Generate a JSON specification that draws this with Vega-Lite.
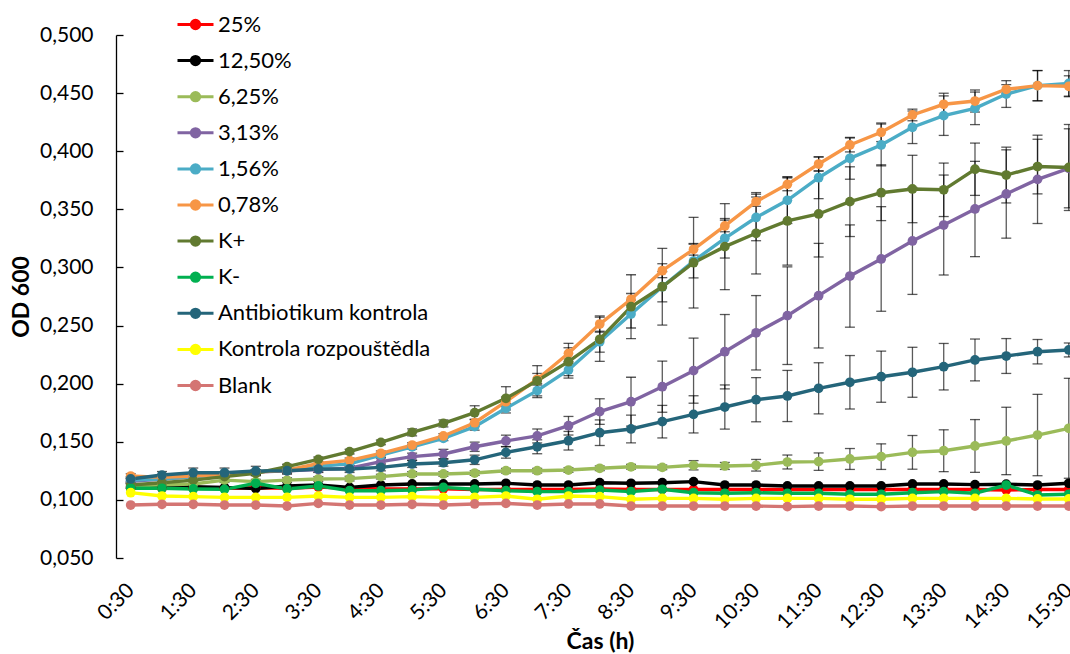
{
"$schema": "https://vega.github.io/schema/vega-lite/v6.json",
"width": 954, "height": 523,
"autosize": {"type": "none"},
"padding": {"left": 116, "top": 35, "right": 0, "bottom": 96},
"config": {"view": {"stroke": null}, "font": "Lato",
 "axis": {"labelFont": "Lato", "titleFont": "Lato", "labelColor": "#000", "titleColor": "#000", "domainColor": "#000", "tickColor": "#000", "grid": false}},
"datasets": {
"pts": [
{"s":"25%","t":"0:30","v":0.110},{"s":"25%","t":"1:00","v":0.110},{"s":"25%","t":"1:30","v":0.110},{"s":"25%","t":"2:00","v":0.110},{"s":"25%","t":"2:30","v":0.1105},{"s":"25%","t":"3:00","v":0.110},{"s":"25%","t":"3:30","v":0.111},{"s":"25%","t":"4:00","v":0.110},{"s":"25%","t":"4:30","v":0.1095},{"s":"25%","t":"5:00","v":0.1095},{"s":"25%","t":"5:30","v":0.1095},{"s":"25%","t":"6:00","v":0.109},{"s":"25%","t":"6:30","v":0.109},{"s":"25%","t":"7:00","v":0.109},{"s":"25%","t":"7:30","v":0.109},{"s":"25%","t":"8:00","v":0.1095},{"s":"25%","t":"8:30","v":0.109},{"s":"25%","t":"9:00","v":0.109},{"s":"25%","t":"9:30","v":0.109},{"s":"25%","t":"10:00","v":0.109},{"s":"25%","t":"10:30","v":0.109},{"s":"25%","t":"11:00","v":0.109},{"s":"25%","t":"11:30","v":0.109},{"s":"25%","t":"12:00","v":0.109},{"s":"25%","t":"12:30","v":0.109},{"s":"25%","t":"13:00","v":0.109},{"s":"25%","t":"13:30","v":0.109},{"s":"25%","t":"14:00","v":0.109},{"s":"25%","t":"14:30","v":0.1085},{"s":"25%","t":"15:00","v":0.109},{"s":"25%","t":"15:30","v":0.109},
{"s":"12,50%","t":"0:30","v":0.1114},{"s":"12,50%","t":"1:00","v":0.1114},{"s":"12,50%","t":"1:30","v":0.1114},{"s":"12,50%","t":"2:00","v":0.1108},{"s":"12,50%","t":"2:30","v":0.1097},{"s":"12,50%","t":"3:00","v":0.112},{"s":"12,50%","t":"3:30","v":0.1128},{"s":"12,50%","t":"4:00","v":0.1108},{"s":"12,50%","t":"4:30","v":0.1128},{"s":"12,50%","t":"5:00","v":0.1137},{"s":"12,50%","t":"5:30","v":0.1137},{"s":"12,50%","t":"6:00","v":0.1137},{"s":"12,50%","t":"6:30","v":0.1143},{"s":"12,50%","t":"7:00","v":0.1128},{"s":"12,50%","t":"7:30","v":0.1128},{"s":"12,50%","t":"8:00","v":0.1148},{"s":"12,50%","t":"8:30","v":0.1143},{"s":"12,50%","t":"9:00","v":0.1148},{"s":"12,50%","t":"9:30","v":0.1157},{"s":"12,50%","t":"10:00","v":0.1128},{"s":"12,50%","t":"10:30","v":0.1128},{"s":"12,50%","t":"11:00","v":0.112},{"s":"12,50%","t":"11:30","v":0.112},{"s":"12,50%","t":"12:00","v":0.112},{"s":"12,50%","t":"12:30","v":0.112},{"s":"12,50%","t":"13:00","v":0.1137},{"s":"12,50%","t":"13:30","v":0.1137},{"s":"12,50%","t":"14:00","v":0.1131},{"s":"12,50%","t":"14:30","v":0.1135},{"s":"12,50%","t":"15:00","v":0.1128},{"s":"12,50%","t":"15:30","v":0.1143},
{"s":"6,25%","t":"0:30","v":0.112,"e":0.002},{"s":"6,25%","t":"1:00","v":0.113,"e":0.002},{"s":"6,25%","t":"1:30","v":0.1137,"e":0.002},{"s":"6,25%","t":"2:00","v":0.117,"e":0.002},{"s":"6,25%","t":"2:30","v":0.1157,"e":0.002},{"s":"6,25%","t":"3:00","v":0.117,"e":0.002},{"s":"6,25%","t":"3:30","v":0.118,"e":0.002},{"s":"6,25%","t":"4:00","v":0.1183,"e":0.002},{"s":"6,25%","t":"4:30","v":0.120,"e":0.002},{"s":"6,25%","t":"5:00","v":0.1223,"e":0.002},{"s":"6,25%","t":"5:30","v":0.1223,"e":0.002},{"s":"6,25%","t":"6:00","v":0.1231,"e":0.002},{"s":"6,25%","t":"6:30","v":0.1251,"e":0.002},{"s":"6,25%","t":"7:00","v":0.1251,"e":0.002},{"s":"6,25%","t":"7:30","v":0.1257,"e":0.002},{"s":"6,25%","t":"8:00","v":0.1272,"e":0.002},{"s":"6,25%","t":"8:30","v":0.1285,"e":0.002},{"s":"6,25%","t":"9:00","v":0.128,"e":0.002},{"s":"6,25%","t":"9:30","v":0.1298,"e":0.004},{"s":"6,25%","t":"10:00","v":0.1292,"e":0.003},{"s":"6,25%","t":"10:30","v":0.1298,"e":0.005},{"s":"6,25%","t":"11:00","v":0.1326,"e":0.006},{"s":"6,25%","t":"11:30","v":0.1329,"e":0.0075},{"s":"6,25%","t":"12:00","v":0.1352,"e":0.009},{"s":"6,25%","t":"12:30","v":0.1372,"e":0.011},{"s":"6,25%","t":"13:00","v":0.1409,"e":0.0145},{"s":"6,25%","t":"13:30","v":0.1423,"e":0.018},{"s":"6,25%","t":"14:00","v":0.1464,"e":0.0227},{"s":"6,25%","t":"14:30","v":0.1507,"e":0.029},{"s":"6,25%","t":"15:00","v":0.1558,"e":0.035},{"s":"6,25%","t":"15:30","v":0.1616,"e":0.043},
{"s":"3,13%","t":"0:30","v":0.116,"e":0.002},{"s":"3,13%","t":"1:00","v":0.118,"e":0.002},{"s":"3,13%","t":"1:30","v":0.120,"e":0.002},{"s":"3,13%","t":"2:00","v":0.122,"e":0.002},{"s":"3,13%","t":"2:30","v":0.124,"e":0.002},{"s":"3,13%","t":"3:00","v":0.125,"e":0.002},{"s":"3,13%","t":"3:30","v":0.126,"e":0.002},{"s":"3,13%","t":"4:00","v":0.1272,"e":0.002},{"s":"3,13%","t":"4:30","v":0.1329,"e":0.003},{"s":"3,13%","t":"5:00","v":0.1372,"e":0.003},{"s":"3,13%","t":"5:30","v":0.1395,"e":0.004},{"s":"3,13%","t":"6:00","v":0.1457,"e":0.004},{"s":"3,13%","t":"6:30","v":0.1507,"e":0.005},{"s":"3,13%","t":"7:00","v":0.155,"e":0.006},{"s":"3,13%","t":"7:30","v":0.1638,"e":0.008},{"s":"3,13%","t":"8:00","v":0.176,"e":0.011},{"s":"3,13%","t":"8:30","v":0.1845,"e":0.021},{"s":"3,13%","t":"9:00","v":0.1974,"e":0.022},{"s":"3,13%","t":"9:30","v":0.2112,"e":0.028},{"s":"3,13%","t":"10:00","v":0.2275,"e":0.032},{"s":"3,13%","t":"10:30","v":0.2438,"e":0.032},{"s":"3,13%","t":"11:00","v":0.2585,"e":0.042},{"s":"3,13%","t":"11:30","v":0.2757,"e":0.045},{"s":"3,13%","t":"12:00","v":0.2926,"e":0.044},{"s":"3,13%","t":"12:30","v":0.3073,"e":0.045},{"s":"3,13%","t":"13:00","v":0.3228,"e":0.046},{"s":"3,13%","t":"13:30","v":0.3365,"e":0.043},{"s":"3,13%","t":"14:00","v":0.3503,"e":0.041},{"s":"3,13%","t":"14:30","v":0.3632,"e":0.038},{"s":"3,13%","t":"15:00","v":0.3758,"e":0.038},{"s":"3,13%","t":"15:30","v":0.3853,"e":0.034},
{"s":"1,56%","t":"0:30","v":0.117,"e":0.002},{"s":"1,56%","t":"1:00","v":0.118,"e":0.002},{"s":"1,56%","t":"1:30","v":0.120,"e":0.002},{"s":"1,56%","t":"2:00","v":0.122,"e":0.002},{"s":"1,56%","t":"2:30","v":0.124,"e":0.002},{"s":"1,56%","t":"3:00","v":0.126,"e":0.002},{"s":"1,56%","t":"3:30","v":0.129,"e":0.002},{"s":"1,56%","t":"4:00","v":0.131,"e":0.002},{"s":"1,56%","t":"4:30","v":0.1386,"e":0.002},{"s":"1,56%","t":"5:00","v":0.1457,"e":0.002},{"s":"1,56%","t":"5:30","v":0.153,"e":0.002},{"s":"1,56%","t":"6:00","v":0.163,"e":0.003},{"s":"1,56%","t":"6:30","v":0.1788,"e":0.004},{"s":"1,56%","t":"7:00","v":0.194,"e":0.006},{"s":"1,56%","t":"7:30","v":0.2118,"e":0.007},{"s":"1,56%","t":"8:00","v":0.2361,"e":0.009},{"s":"1,56%","t":"8:30","v":0.2599,"e":0.012},{"s":"1,56%","t":"9:00","v":0.2834,"e":0.013},{"s":"1,56%","t":"9:30","v":0.3055,"e":0.0145},{"s":"1,56%","t":"10:00","v":0.3251,"e":0.017},{"s":"1,56%","t":"10:30","v":0.343,"e":0.02},{"s":"1,56%","t":"11:00","v":0.3578,"e":0.02},{"s":"1,56%","t":"11:30","v":0.3772,"e":0.018},{"s":"1,56%","t":"12:00","v":0.3939,"e":0.018},{"s":"1,56%","t":"12:30","v":0.4054,"e":0.018},{"s":"1,56%","t":"13:00","v":0.4206,"e":0.014},{"s":"1,56%","t":"13:30","v":0.4306,"e":0.017},{"s":"1,56%","t":"14:00","v":0.4369,"e":0.014},{"s":"1,56%","t":"14:30","v":0.4492,"e":0.0115},{"s":"1,56%","t":"15:00","v":0.4564,"e":0.013},{"s":"1,56%","t":"15:30","v":0.4584,"e":0.011},
{"s":"0,78%","t":"0:30","v":0.1205,"e":0.002},{"s":"0,78%","t":"1:00","v":0.1194,"e":0.002},{"s":"0,78%","t":"1:30","v":0.1205,"e":0.002},{"s":"0,78%","t":"2:00","v":0.122,"e":0.002},{"s":"0,78%","t":"2:30","v":0.124,"e":0.002},{"s":"0,78%","t":"3:00","v":0.1255,"e":0.002},{"s":"0,78%","t":"3:30","v":0.1313,"e":0.002},{"s":"0,78%","t":"4:00","v":0.134,"e":0.002},{"s":"0,78%","t":"4:30","v":0.1401,"e":0.002},{"s":"0,78%","t":"5:00","v":0.1472,"e":0.002},{"s":"0,78%","t":"5:30","v":0.155,"e":0.002},{"s":"0,78%","t":"6:00","v":0.1664,"e":0.003},{"s":"0,78%","t":"6:30","v":0.1845,"e":0.004},{"s":"0,78%","t":"7:00","v":0.2038,"e":0.005},{"s":"0,78%","t":"7:30","v":0.2261,"e":0.0086},{"s":"0,78%","t":"8:00","v":0.2513,"e":0.007},{"s":"0,78%","t":"8:30","v":0.2726,"e":0.005},{"s":"0,78%","t":"9:00","v":0.2972,"e":0.006},{"s":"0,78%","t":"9:30","v":0.3156,"e":0.005},{"s":"0,78%","t":"10:00","v":0.3357,"e":0.005},{"s":"0,78%","t":"10:30","v":0.3566,"e":0.004},{"s":"0,78%","t":"11:00","v":0.3715,"e":0.0055},{"s":"0,78%","t":"11:30","v":0.389,"e":0.006},{"s":"0,78%","t":"12:00","v":0.4054,"e":0.006},{"s":"0,78%","t":"12:30","v":0.4163,"e":0.008},{"s":"0,78%","t":"13:00","v":0.4312,"e":0.005},{"s":"0,78%","t":"13:30","v":0.4404,"e":0.0095},{"s":"0,78%","t":"14:00","v":0.4432,"e":0.0095},{"s":"0,78%","t":"14:30","v":0.4533,"e":0.004},{"s":"0,78%","t":"15:00","v":0.4564,"e":0.013},{"s":"0,78%","t":"15:30","v":0.4559,"e":0.009},
{"s":"K+","t":"0:30","v":0.1128,"e":0.002},{"s":"K+","t":"1:00","v":0.1148,"e":0.002},{"s":"K+","t":"1:30","v":0.117,"e":0.002},{"s":"K+","t":"2:00","v":0.12,"e":0.002},{"s":"K+","t":"2:30","v":0.1229,"e":0.002},{"s":"K+","t":"3:00","v":0.1286,"e":0.002},{"s":"K+","t":"3:30","v":0.1349,"e":0.002},{"s":"K+","t":"4:00","v":0.1415,"e":0.002},{"s":"K+","t":"4:30","v":0.1495,"e":0.002},{"s":"K+","t":"5:00","v":0.1581,"e":0.003},{"s":"K+","t":"5:30","v":0.1658,"e":0.003},{"s":"K+","t":"6:00","v":0.175,"e":0.006},{"s":"K+","t":"6:30","v":0.1874,"e":0.010},{"s":"K+","t":"7:00","v":0.2025,"e":0.013},{"s":"K+","t":"7:30","v":0.2189,"e":0.012},{"s":"K+","t":"8:00","v":0.2382,"e":0.019},{"s":"K+","t":"8:30","v":0.2662,"e":0.0275},{"s":"K+","t":"9:00","v":0.2834,"e":0.033},{"s":"K+","t":"9:30","v":0.3041,"e":0.039},{"s":"K+","t":"10:00","v":0.3179,"e":0.037},{"s":"K+","t":"10:30","v":0.3294,"e":0.035},{"s":"K+","t":"11:00","v":0.34,"e":0.038},{"s":"K+","t":"11:30","v":0.346,"e":0.037},{"s":"K+","t":"12:00","v":0.3566,"e":0.030},{"s":"K+","t":"12:30","v":0.3643,"e":0.024},{"s":"K+","t":"13:00","v":0.3675,"e":0.029},{"s":"K+","t":"13:30","v":0.3668,"e":0.023},{"s":"K+","t":"14:00","v":0.3845,"e":0.0225},{"s":"K+","t":"14:30","v":0.3795,"e":0.024},{"s":"K+","t":"15:00","v":0.3868,"e":0.0235},{"s":"K+","t":"15:30","v":0.386,"e":0.037},
{"s":"K-","t":"0:30","v":0.110},{"s":"K-","t":"1:00","v":0.110},{"s":"K-","t":"1:30","v":0.1094},{"s":"K-","t":"2:00","v":0.1091},{"s":"K-","t":"2:30","v":0.1143},{"s":"K-","t":"3:00","v":0.1094},{"s":"K-","t":"3:30","v":0.112},{"s":"K-","t":"4:00","v":0.1079},{"s":"K-","t":"4:30","v":0.1079},{"s":"K-","t":"5:00","v":0.1085},{"s":"K-","t":"5:30","v":0.1108},{"s":"K-","t":"6:00","v":0.1091},{"s":"K-","t":"6:30","v":0.1079},{"s":"K-","t":"7:00","v":0.1071},{"s":"K-","t":"7:30","v":0.1071},{"s":"K-","t":"8:00","v":0.1085},{"s":"K-","t":"8:30","v":0.1071},{"s":"K-","t":"9:00","v":0.1091},{"s":"K-","t":"9:30","v":0.1062},{"s":"K-","t":"10:00","v":0.1057},{"s":"K-","t":"10:30","v":0.1062},{"s":"K-","t":"11:00","v":0.1057},{"s":"K-","t":"11:30","v":0.1057},{"s":"K-","t":"12:00","v":0.1048},{"s":"K-","t":"12:30","v":0.1048},{"s":"K-","t":"13:00","v":0.1062},{"s":"K-","t":"13:30","v":0.1071},{"s":"K-","t":"14:00","v":0.1057},{"s":"K-","t":"14:30","v":0.1128},{"s":"K-","t":"15:00","v":0.1042},{"s":"K-","t":"15:30","v":0.1048},
{"s":"Antibiotikum kontrola","t":"0:30","v":0.118,"e":0.002},{"s":"Antibiotikum kontrola","t":"1:00","v":0.1214,"e":0.003},{"s":"Antibiotikum kontrola","t":"1:30","v":0.1234,"e":0.004},{"s":"Antibiotikum kontrola","t":"2:00","v":0.1234,"e":0.004},{"s":"Antibiotikum kontrola","t":"2:30","v":0.1249,"e":0.004},{"s":"Antibiotikum kontrola","t":"3:00","v":0.1251,"e":0.003},{"s":"Antibiotikum kontrola","t":"3:30","v":0.1266,"e":0.003},{"s":"Antibiotikum kontrola","t":"4:00","v":0.1266,"e":0.003},{"s":"Antibiotikum kontrola","t":"4:30","v":0.128,"e":0.003},{"s":"Antibiotikum kontrola","t":"5:00","v":0.1309,"e":0.003},{"s":"Antibiotikum kontrola","t":"5:30","v":0.132,"e":0.003},{"s":"Antibiotikum kontrola","t":"6:00","v":0.1345,"e":0.004},{"s":"Antibiotikum kontrola","t":"6:30","v":0.1409,"e":0.005},{"s":"Antibiotikum kontrola","t":"7:00","v":0.1457,"e":0.006},{"s":"Antibiotikum kontrola","t":"7:30","v":0.1509,"e":0.008},{"s":"Antibiotikum kontrola","t":"8:00","v":0.1578,"e":0.011},{"s":"Antibiotikum kontrola","t":"8:30","v":0.161,"e":0.012},{"s":"Antibiotikum kontrola","t":"9:00","v":0.1673,"e":0.014},{"s":"Antibiotikum kontrola","t":"9:30","v":0.1736,"e":0.016},{"s":"Antibiotikum kontrola","t":"10:00","v":0.1799,"e":0.019},{"s":"Antibiotikum kontrola","t":"10:30","v":0.1862,"e":0.019},{"s":"Antibiotikum kontrola","t":"11:00","v":0.1894,"e":0.022},{"s":"Antibiotikum kontrola","t":"11:30","v":0.196,"e":0.022},{"s":"Antibiotikum kontrola","t":"12:00","v":0.2012,"e":0.023},{"s":"Antibiotikum kontrola","t":"12:30","v":0.206,"e":0.022},{"s":"Antibiotikum kontrola","t":"13:00","v":0.2098,"e":0.0215},{"s":"Antibiotikum kontrola","t":"13:30","v":0.2146,"e":0.02},{"s":"Antibiotikum kontrola","t":"14:00","v":0.2204,"e":0.018},{"s":"Antibiotikum kontrola","t":"14:30","v":0.2238,"e":0.015},{"s":"Antibiotikum kontrola","t":"15:00","v":0.2275,"e":0.0105},{"s":"Antibiotikum kontrola","t":"15:30","v":0.229,"e":0.006},
{"s":"Kontrola rozpouštědla","t":"0:30","v":0.1062},{"s":"Kontrola rozpouštědla","t":"1:00","v":0.1033},{"s":"Kontrola rozpouštědla","t":"1:30","v":0.1028},{"s":"Kontrola rozpouštědla","t":"2:00","v":0.1022},{"s":"Kontrola rozpouštědla","t":"2:30","v":0.1022},{"s":"Kontrola rozpouštědla","t":"3:00","v":0.1022},{"s":"Kontrola rozpouštědla","t":"3:30","v":0.1033},{"s":"Kontrola rozpouštědla","t":"4:00","v":0.1022},{"s":"Kontrola rozpouštědla","t":"4:30","v":0.1022},{"s":"Kontrola rozpouštědla","t":"5:00","v":0.1028},{"s":"Kontrola rozpouštědla","t":"5:30","v":0.1022},{"s":"Kontrola rozpouštědla","t":"6:00","v":0.1022},{"s":"Kontrola rozpouštědla","t":"6:30","v":0.1033},{"s":"Kontrola rozpouštědla","t":"7:00","v":0.1005},{"s":"Kontrola rozpouštědla","t":"7:30","v":0.1033},{"s":"Kontrola rozpouštědla","t":"8:00","v":0.1028},{"s":"Kontrola rozpouštědla","t":"8:30","v":0.1005},{"s":"Kontrola rozpouštědla","t":"9:00","v":0.1013},{"s":"Kontrola rozpouštědla","t":"9:30","v":0.1013},{"s":"Kontrola rozpouštědla","t":"10:00","v":0.1005},{"s":"Kontrola rozpouštědla","t":"10:30","v":0.1013},{"s":"Kontrola rozpouštědla","t":"11:00","v":0.1013},{"s":"Kontrola rozpouštědla","t":"11:30","v":0.1013},{"s":"Kontrola rozpouštědla","t":"12:00","v":0.1005},{"s":"Kontrola rozpouštědla","t":"12:30","v":0.1005},{"s":"Kontrola rozpouštědla","t":"13:00","v":0.1013},{"s":"Kontrola rozpouštědla","t":"13:30","v":0.1013},{"s":"Kontrola rozpouštědla","t":"14:00","v":0.1013},{"s":"Kontrola rozpouštědla","t":"14:30","v":0.1013},{"s":"Kontrola rozpouštědla","t":"15:00","v":0.1008},{"s":"Kontrola rozpouštědla","t":"15:30","v":0.1008},
{"s":"Blank","t":"0:30","v":0.0956},{"s":"Blank","t":"1:00","v":0.0962},{"s":"Blank","t":"1:30","v":0.0962},{"s":"Blank","t":"2:00","v":0.0956},{"s":"Blank","t":"2:30","v":0.0956},{"s":"Blank","t":"3:00","v":0.0947},{"s":"Blank","t":"3:30","v":0.097},{"s":"Blank","t":"4:00","v":0.0956},{"s":"Blank","t":"4:30","v":0.0956},{"s":"Blank","t":"5:00","v":0.0962},{"s":"Blank","t":"5:30","v":0.0956},{"s":"Blank","t":"6:00","v":0.0965},{"s":"Blank","t":"6:30","v":0.097},{"s":"Blank","t":"7:00","v":0.0956},{"s":"Blank","t":"7:30","v":0.0965},{"s":"Blank","t":"8:00","v":0.0965},{"s":"Blank","t":"8:30","v":0.0947},{"s":"Blank","t":"9:00","v":0.0947},{"s":"Blank","t":"9:30","v":0.0947},{"s":"Blank","t":"10:00","v":0.0947},{"s":"Blank","t":"10:30","v":0.0947},{"s":"Blank","t":"11:00","v":0.0942},{"s":"Blank","t":"11:30","v":0.0947},{"s":"Blank","t":"12:00","v":0.0947},{"s":"Blank","t":"12:30","v":0.0942},{"s":"Blank","t":"13:00","v":0.0947},{"s":"Blank","t":"13:30","v":0.0947},{"s":"Blank","t":"14:00","v":0.0947},{"s":"Blank","t":"14:30","v":0.0947},{"s":"Blank","t":"15:00","v":0.0947},{"s":"Blank","t":"15:30","v":0.0947}
]},
"data": {"name": "pts"},
"encoding": {
 "x": {"field": "t", "type": "ordinal",
  "scale": {"type": "point", "domain": ["0:30","1:00","1:30","2:00","2:30","3:00","3:30","4:00","4:30","5:00","5:30","6:00","6:30","7:00","7:30","8:00","8:30","9:00","9:30","10:00","10:30","11:00","11:30","12:00","12:30","13:00","13:30","14:00","14:30","15:00","15:30"], "range": [14.7, 952.8], "padding": 0},
  "axis": {"values": ["0:30","1:30","2:30","3:30","4:30","5:30","6:30","7:30","8:30","9:30","10:30","11:30","12:30","13:30","14:30","15:30"], "domain": false, "ticks": false, "labelAngle": -45, "labelAlign": "right", "labelBaseline": "middle", "labelPadding": 29, "labelFontSize": 21, "title": "Čas (h)", "titleFontSize": 23, "titleFontWeight": "bold", "titleX": 484, "titleY": 90, "titleBaseline": "alphabetic", "titleAlign": "center"}},
 "y": {"field": "v", "type": "quantitative",
  "scale": {"domain": [0.05, 0.5], "nice": false, "zero": false},
  "axis": {"values": [0.05,0.1,0.15,0.2,0.25,0.3,0.35,0.4,0.45,0.5], "labelExpr": "replace(format(datum.value, '.3f'), '.', ',')", "labelFontSize": 21, "tickSize": -7, "tickWidth": 1.3, "domainWidth": 1.3, "labelPadding": 30, "title": "OD 600", "titleFontSize": 23, "titleFontWeight": "bold", "titlePadding": 6}}
},
"layer": [
 {"data": {"values": [{}]}, "mark": {"type": "rule", "color": "#000", "strokeWidth": 1.3}, "encoding": {"x": null, "y": {"datum": 0.05, "type": "quantitative"}}},
 {"transform": [{"filter": "isValid(datum.e)"}],
  "mark": {"type": "errorbar", "color": "#000", "opacity": 0.65, "thickness": 1.3, "ticks": {"size": 10, "thickness": 1.3}},
  "encoding": {"yError": {"field": "e"}}},
 {"mark": {"type": "line", "strokeWidth": 3.4},
  "encoding": {"color": {"field": "s", "type": "nominal",
   "scale": {"domain": ["25%","12,50%","6,25%","3,13%","1,56%","0,78%","K+","K-","Antibiotikum kontrola","Kontrola rozpouštědla","Blank"], "range": ["#FF0000","#000000","#9BBB59","#8064A2","#4BACC6","#F79646","#617A30","#00B050","#24657A","#FFFF00","#D47573"]},
   "legend": {"orient": "none", "legendX": 60, "legendY": -30, "direction": "vertical", "title": null, "padding": 0,
     "symbolType": "M-1,0L1,0M0.23,0A0.23,0.23,0,1,1,-0.23,0A0.23,0.23,0,1,1,0.23,0Z", "symbolSize": 1296, "symbolStrokeWidth": 3,
     "labelFont": "Lato", "labelFontSize": 22, "labelColor": "#000", "labelLimit": 0, "rowPadding": 5.1, "labelOffset": 3,
     "encode": {"symbols": {"update": {"fill": {"scale": "color", "field": "value"}, "stroke": {"scale": "color", "field": "value"}, "opacity": {"value": 1}}}}}}}},
 {"mark": {"type": "point", "filled": true, "size": 95, "opacity": 1},
  "encoding": {"color": {"field": "s", "type": "nominal", "legend": null}}}
]
}
